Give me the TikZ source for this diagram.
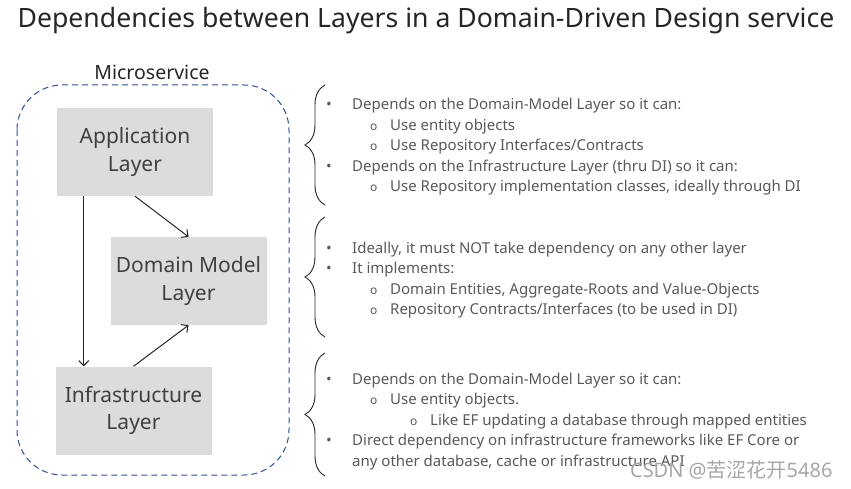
\documentclass[tikz,border=0pt]{standalone}
\usepackage{fontspec}
\setmainfont{Noto Sans}
\newfontfamily\cjkfont{Noto Sans CJK SC}
\usepackage{tikz}
\usetikzlibrary{ arrows.meta, calc, positioning, decorations.pathreplacing }
\definecolor{titlegray}{HTML}{262626}
\definecolor{notegray}{HTML}{595959}
\definecolor{boxgray}{HTML}{DCDCDC}
\definecolor{boxtext}{HTML}{404040}
\definecolor{msblue}{HTML}{2F4F8F}
\tikzset{
>={Straight Barb[length=5pt,width=10pt]}, % open arrow heads
layer/.style={fill=boxgray, text=boxtext, minimum width=156pt, minimum height=88pt,
  align=center, font=\fontsize{21}{27.5}\selectfont, inner sep=0pt},
dep/.style={->, line width=1pt, black!85},
note/.style={text=notegray, font=\fontsize{15}{20}\selectfont, inner sep=0pt, anchor=base west},
notebrace/.style={decorate, decoration={brace, amplitude=20pt}, line width=0.9pt, black!85},
}
% bullet levels
\newcommand{\bl}[1]{\makebox[26pt][l]{\textbullet}#1}
\newcommand{\sbl}[1]{\hspace*{44pt}\makebox[20pt][l]{\fontsize{12}{12}\selectfont o}#1}
\newcommand{\ssbl}[1]{\hspace*{84pt}\makebox[20pt][l]{\fontsize{12}{12}\selectfont o}#1}
\newcommand{\cont}[1]{\hspace*{26pt}#1}

\begin{document}
\begin{tikzpicture}[x=1pt,y=-1pt]
  \useasboundingbox (0,0) rectangle (851,489);

  \node[text=titlegray, font=\fontsize{26.6}{30}\selectfont] (title) at (426,21)
    {Dependencies between Layers in a Domain-Driven Design service};

  % microservice with its layers
  \draw[msblue, line width=1pt, dash pattern=on 6pt off 4pt, rounded corners=45pt]
    (17,85) rectangle (289,475);
  \node[text=titlegray, font=\fontsize{19.5}{22}\selectfont] (ms) at (152,72) {Microservice};

  \node[layer] (app) at (135,152) {Application\\Layer};
  \node[layer] (dom) at (188.5,281) {Domain Model\\Layer};
  \node[layer] (infra) at (133.5,410.5) {Infrastructure\\Layer};

  \draw[dep] ([xshift=27pt]app.south west) -- ([xshift=27pt]app.south west |- infra.north);
  \draw[dep] (app.south) -- (dom.north);
  \draw[dep] (infra.north) -- (dom.south);

  % braces
  \draw[notebrace] (325,205) -- (325,85);
  \draw[notebrace] (325,337) -- (325,217);
  \draw[notebrace] (325,476) -- (325,353);

  % notes per layer
  \foreach \yy/\txt [count=\i] in {
    110/{\bl{Depends on the Domain-Model Layer so it can:}},
    130.5/{\sbl{Use entity objects}},
    151/{\sbl{Use Repository Interfaces/Contracts}},
    171.5/{\bl{Depends on the Infrastructure Layer (thru DI) so it can:}},
    192/{\sbl{Use Repository implementation classes, ideally through DI}}}
    \node[note] (appnote\i) at (326,\yy) {\txt};

  \foreach \yy/\txt [count=\i] in {
    253/{\bl{Ideally, it must NOT take dependency on any other layer}},
    273.5/{\bl{It implements:}},
    294/{\sbl{Domain Entities, Aggregate-Roots and Value-Objects}},
    314.5/{\sbl{Repository Contracts/Interfaces (to be used in DI)}}}
    \node[note] (domnote\i) at (326,\yy) {\txt};

  \foreach \yy/\txt [count=\i] in {
    384/{\bl{Depends on the Domain-Model Layer so it can:}},
    404.5/{\sbl{Use entity objects.}},
    425/{\ssbl{Like EF updating a database through mapped entities}},
    445.5/{\bl{Direct dependency on infrastructure frameworks like EF Core or}},
    466/{\cont{any other database, cache or infrastructure API}}}
    \node[note] (infranote\i) at (326,\yy) {\txt};

  \node[text=black!35, font=\fontsize{20}{22}\selectfont, anchor=base east] (mark) at (836,477)
    {CSDN @{\cjkfont 苦涩花开}5486};
\end{tikzpicture}
\end{document}
